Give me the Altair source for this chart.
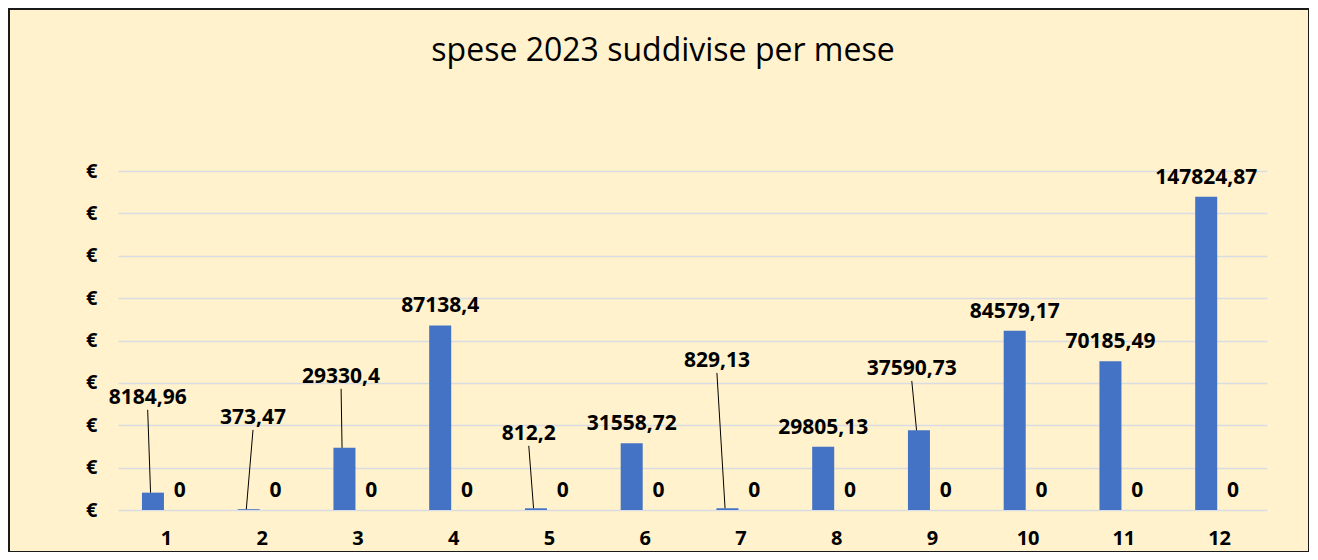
import altair as alt
import pandas as pd

# ---- data ----
titolo = "spese 2023 suddivise per mese"
mesi = [1, 2, 3, 4, 5, 6, 7, 8, 9, 10, 11, 12]
spese = [8184.96, 373.47, 29330.4, 87138.4, 812.2, 31558.72, 829.13,
         29805.13, 37590.73, 84579.17, 70185.49, 147824.87]
seconda_serie = [0, 0, 0, 0, 0, 0, 0, 0, 0, 0, 0, 0]

# labels moved away from their bar, with a leader line (position in data units)
leader_mesi = [1, 2, 3, 5, 7, 9]
leader_dx = [-0.19, -0.09, -0.17, -0.21, -0.245, -0.21]
leader_y = [52900, 43400, 62800, 35900, 70300, 66500]

y_ticks = [0, 20000, 40000, 60000, 80000, 100000, 120000, 140000, 160000]

# ---- build tables ----
BAR_L, BAR_R = 0.25, 0.02
def it(v):
    return str(v).replace(".", ",")

df = pd.DataFrame({"mese": mesi, "valore": spese, "zero": seconda_serie})
df["x0"] = df["mese"] - BAR_L
df["x1"] = df["mese"] - BAR_R
df["xz0"] = df["mese"] - BAR_R
df["xz1"] = df["mese"] + (BAR_L - 2 * BAR_R)
df["lab"] = [it(v) for v in spese]
df["zlab"] = [it(v) for v in seconda_serie]
df["zx"] = df["mese"] + 0.145
df["leader"] = df["mese"].isin(leader_mesi)

plain = df[~df["leader"]].copy()
plain["lx"] = plain["mese"] - (BAR_L + BAR_R) / 2

lead = df[df["leader"]].copy()
lead["lx"] = [m + d for m, d in zip(leader_mesi, leader_dx)]
lead["ly"] = leader_y
lead["line_top"] = lead["ly"] - 5600
lead["line_x2"] = lead["mese"] - 0.16

FONT = "Open Sans"
BLUE = "#4472C4"
BG = "#FFF2CC"

xs = alt.Scale(domain=[0.5, 12.5], nice=False, zero=False)
ys = alt.Scale(domain=[0, 160000], nice=False)

x_axis = alt.Axis(values=mesi, format="d", grid=False, domain=False, ticks=False,
                  labelFont=FONT, labelFontSize=20, labelFontWeight="bold",
                  labelColor="#000000", labelPadding=18, title=None)
y_axis = alt.Axis(values=y_ticks, labelExpr="'€'", grid=True, gridColor="#D9DCE3",
                  gridWidth=1.5, domain=False, ticks=False, labelFont=FONT,
                  labelFontSize=20, labelFontWeight="bold", labelColor="#000000",
                  labelPadding=21, title=None)

base = alt.Chart(df)

bars = base.mark_rect(color=BLUE).encode(
    x=alt.X("x0:Q", scale=xs, axis=x_axis),
    x2="x1:Q",
    y=alt.Y("valore:Q", scale=ys, axis=y_axis),
    y2=alt.datum(0),
)

zero_bars = base.mark_rect(color="#ED7D31").encode(
    x=alt.X("xz0:Q", scale=xs),
    x2="xz1:Q",
    y=alt.Y("zero:Q", scale=ys),
    y2=alt.datum(0),
)

txt = dict(font=FONT, fontSize=21, fontWeight="bold", color="#000000",
           align="center", baseline="middle")

plain_labels = alt.Chart(plain).mark_text(dy=-19, **txt).encode(
    x=alt.X("lx:Q", scale=xs),
    y=alt.Y("valore:Q", scale=ys),
    text="lab:N",
)

zero_labels = base.mark_text(dy=-19, **txt).encode(
    x=alt.X("zx:Q", scale=xs),
    y=alt.Y("zero:Q", scale=ys),
    text="zlab:N",
)

lead_lines = alt.Chart(lead).mark_rule(color="#000000", strokeWidth=1).encode(
    x=alt.X("lx:Q", scale=xs),
    x2="line_x2:Q",
    y=alt.Y("line_top:Q", scale=ys),
    y2="valore:Q",
)

lead_labels = alt.Chart(lead).mark_text(**txt).encode(
    x=alt.X("lx:Q", scale=xs),
    y=alt.Y("ly:Q", scale=ys),
    text="lab:N",
)

one = pd.DataFrame({"t": [titolo]})

frame = alt.Chart(one).mark_rect(
    filled=False, stroke="#1a1a1a", strokeWidth=2, clip=False
).encode(
    x=alt.value(-109), x2=alt.value(1191), y=alt.value(-162), y2=alt.value(381)
)

title_mark = alt.Chart(one).mark_text(
    font=FONT, fontSize=32, fontWeight="normal", color="#000000",
    align="center", baseline="middle", clip=False
).encode(
    x=alt.value(545), y=alt.value(-120), text="t:N"
)

chart = alt.layer(
    frame, title_mark, bars, zero_bars, lead_lines, plain_labels, zero_labels,
    lead_labels
).properties(
    width=1149,
    height=339,
    background=BG,
    padding={"left": 110, "top": 163, "right": 42, "bottom": 42},
    autosize=alt.AutoSizeParams(type="none"),
).configure_view(stroke=None)

chart.save("out.html", embed_options={"renderer": "svg", "actions": False})
